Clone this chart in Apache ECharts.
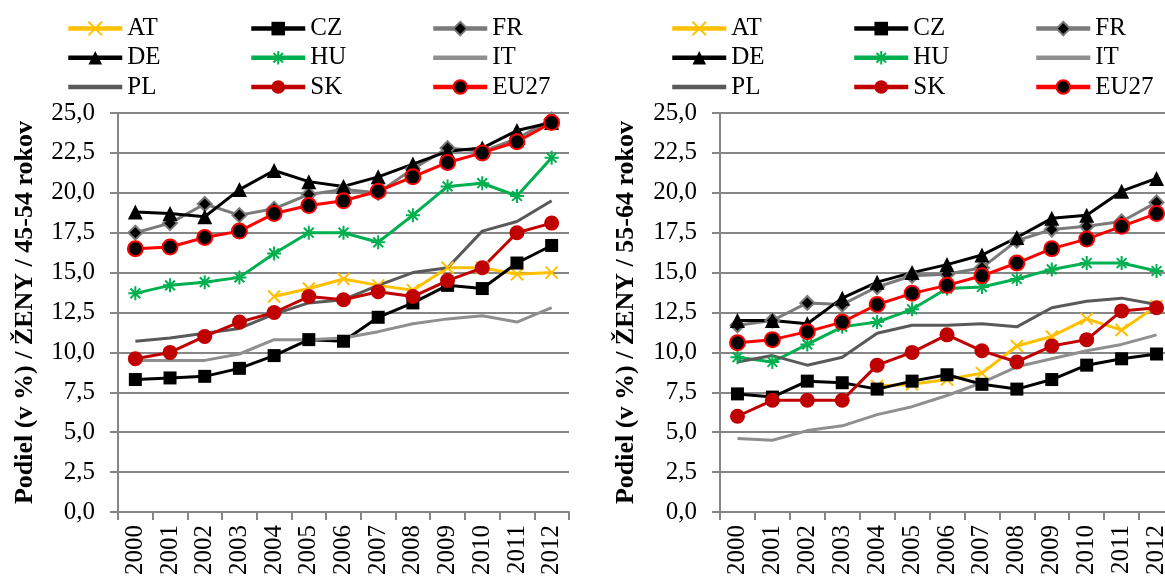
<!DOCTYPE html>
<html>
<head>
<meta charset="utf-8">
<script src="https://cdn.jsdelivr.net/npm/echarts@6/dist/echarts.min.js"></script>
<style>
html,body{margin:0;padding:0;background:#fff;}
#c{width:1165px;height:579px;}
</style>
</head>
<body>
<div id="c"></div>
<script>
var years = ['2000','2001','2002','2003','2004','2005','2006','2007','2008','2009','2010','2011','2012'];
var countries = ['AT','CZ','FR','DE','HU','IT','PL','SK','EU27'];

// 45-54 rokov
var AT1 = [null,null,null,null,13.5,14.0,14.6,14.2,13.9,15.3,15.3,14.9,15.0];
var CZ1 = [8.3,8.4,8.5,9.0,9.8,10.8,10.7,12.2,13.1,14.2,14.0,15.6,16.7];
var FR1 = [17.5,18.1,19.3,18.6,19.0,19.9,20.2,20.0,21.5,22.8,22.6,23.4,24.6];
var DE1 = [18.8,18.7,18.5,20.2,21.4,20.7,20.4,21.0,21.8,22.6,22.8,23.9,24.4];
var HU1 = [13.7,14.2,14.4,14.7,16.2,17.5,17.5,16.9,18.6,20.4,20.6,19.8,22.2];
var IT1 = [9.5,9.5,9.5,9.9,10.8,10.8,10.9,11.3,11.8,12.1,12.3,11.9,12.8];
var PL1 = [10.7,10.9,11.2,11.5,12.4,13.1,13.3,14.2,15.0,15.3,17.6,18.2,19.5];
var SK1 = [9.6,10.0,11.0,11.9,12.5,13.5,13.3,13.8,13.5,14.5,15.3,17.5,18.1];
var EU1 = [16.5,16.6,17.2,17.6,18.7,19.2,19.5,20.1,21.0,21.9,22.5,23.2,24.4];

// 55-64 rokov
var AT2 = [null,null,null,null,7.9,8.0,8.3,8.7,10.4,11.0,12.1,11.4,12.9];
var CZ2 = [7.4,7.2,8.2,8.1,7.7,8.2,8.6,8.0,7.7,8.3,9.2,9.6,9.9];
var FR2 = [11.7,12.0,13.1,13.0,14.1,14.8,14.9,15.3,17.0,17.7,17.9,18.2,19.4];
var DE2 = [12.0,12.0,11.8,13.4,14.4,15.0,15.5,16.1,17.2,18.4,18.6,20.1,20.9];
var HU2 = [9.7,9.4,10.5,11.6,11.9,12.7,14.0,14.1,14.6,15.2,15.6,15.6,15.1];
var IT2 = [4.6,4.5,5.1,5.4,6.1,6.6,7.3,8.1,9.1,9.6,10.1,10.5,11.1];
var PL2 = [9.4,9.8,9.2,9.7,11.2,11.7,11.7,11.8,11.6,12.8,13.2,13.4,13.0];
var SK2 = [6.0,7.0,7.0,7.0,9.2,10.0,11.1,10.1,9.4,10.4,10.8,12.6,12.8];
var EU2 = [10.6,10.8,11.3,11.9,13.0,13.7,14.2,14.8,15.6,16.5,17.1,17.9,18.7];

var yTitles = ['Podiel (v %) / ŽENY / 45-54 rokov', 'Podiel (v %) / ŽENY / 55-64 rokov'];
var yTicks = [0, 25, 2.5];

var data1 = {AT:AT1, CZ:CZ1, FR:FR1, DE:DE1, HU:HU1, IT:IT1, PL:PL1, SK:SK1, EU27:EU1};
var data2 = {AT:AT2, CZ:CZ2, FR:FR2, DE:DE2, HU:HU2, IT:IT2, PL:PL2, SK:SK2, EU27:EU2};

var FONT = 'Liberation Serif';
var GRID = '#868686';

var styles = {
  AT:  {line:'#FFC000', symbol:'path://M0,0L10,10M10,0L0,10', size:12, fill:'#FFC000', border:'#FFC000', bw:2},
  CZ:  {line:'#000000', symbol:'rect', size:13, fill:'#000000', border:'#000000', bw:0},
  FR:  {line:'#7a7a7a', symbol:'diamond', size:14, fill:'#000000', border:'#7a7a7a', bw:2},
  DE:  {line:'#000000', symbol:'triangle', size:15, fill:'#000000', border:'#000000', bw:0},
  HU:  {line:'#00B050', symbol:'path://M5,0L5,10M0,5L10,5M1.5,1.5L8.5,8.5M8.5,1.5L1.5,8.5', size:14, fill:'#00B050', border:'#00B050', bw:2},
  IT:  {line:'#8f8f8f', symbol:'none'},
  PL:  {line:'#595959', symbol:'none'},
  SK:  {line:'#C00000', symbol:'circle', size:15, fill:'#C00000', border:'#C00000', bw:0},
  EU27:{line:'#FF0000', symbol:'circle', size:15, fill:'#000000', border:'#FF0000', bw:2}
};

function makeSeries(d, idx) {
  return countries.map(function(c){
    var s = styles[c];
    var o = {
      name: c, type: 'line', xAxisIndex: idx, yAxisIndex: idx,
      data: d[c], connectNulls: false, animation: false,
      lineStyle: {color: s.line, width: 3},
      color: s.line,
      symbol: s.symbol,
      emphasis: {disabled: true}
    };
    if (s.symbol !== 'none') {
      o.symbolSize = s.size;
      o.showSymbol = true;
      o.itemStyle = {color: s.fill, borderColor: s.border, borderWidth: s.bw};
    }
    return o;
  });
}

var cols = [['AT','DE','PL'],['CZ','HU','SK'],['FR','IT','EU27']];
var legendLefts = [[66,249,431],[670,852,1034]];
var legends = [];
legendLefts.forEach(function(ls){
  ls.forEach(function(l, ci){
    legends.push({
      orient: 'vertical', left: l, top: 14, padding: 0,
      data: cols[ci].map(function(n){
        var s = styles[n];
        var it = {name: n, lineStyle: {width: 4.5, color: s.line}};
        if (s.symbol === 'none') it.itemStyle = {opacity: 0};
        return it;
      }),
      itemWidth: 54, itemHeight: 17, itemGap: 0,
      lineStyle: {width: 4.5},
      textStyle: {fontFamily: FONT, fontSize: 25, color: '#000', lineHeight: 29.2},
      selectedMode: false
    });
  });
});

function yAxis(idx, gap) {
  return {
    type: 'value', gridIndex: idx, min: yTicks[0], max: yTicks[1], interval: yTicks[2],
    name: yTitles[idx], nameLocation: 'middle', nameGap: gap,
    nameTextStyle: {fontFamily: FONT, fontSize: 26, fontWeight: 'bold', color: '#000'},
    axisLine: {show: true, lineStyle: {color: GRID, width: 2}},
    axisTick: {show: true, length: 8, lineStyle: {color: GRID, width: 2}},
    splitLine: {show: true, lineStyle: {color: GRID, width: 2}},
    axisLabel: {fontFamily: FONT, fontSize: 25, color: '#000', margin: 23,
      formatter: function(v){ return v.toFixed(1).replace('.', ','); }}
  };
}
function xAxis(idx) {
  return {
    type: 'category', gridIndex: idx, data: years, boundaryGap: true,
    axisLine: {show: true, lineStyle: {color: GRID, width: 2}},
    axisTick: {show: true, length: 8, lineStyle: {color: GRID, width: 2}},
    axisLabel: {fontFamily: FONT, fontSize: 25, color: '#000', rotate: 90, margin: 13, interval: 0}
  };
}

var chart = echarts.init(document.getElementById('c'), null, {renderer: 'canvas'});
chart.setOption({
  animation: false,
  backgroundColor: '#fff',
  legend: legends,
  grid: [
    {left: 118, top: 113, width: 451, height: 399, outerBoundsMode: 'none', containLabel: false},
    {left: 720, top: 113, width: 454, height: 399, outerBoundsMode: 'none', containLabel: false}
  ],
  xAxis: [xAxis(0), xAxis(1)],
  yAxis: [yAxis(0, 80), yAxis(1, 81)],
  series: makeSeries(data1, 0).concat(makeSeries(data2, 1))
});
</script>
</body>
</html>
